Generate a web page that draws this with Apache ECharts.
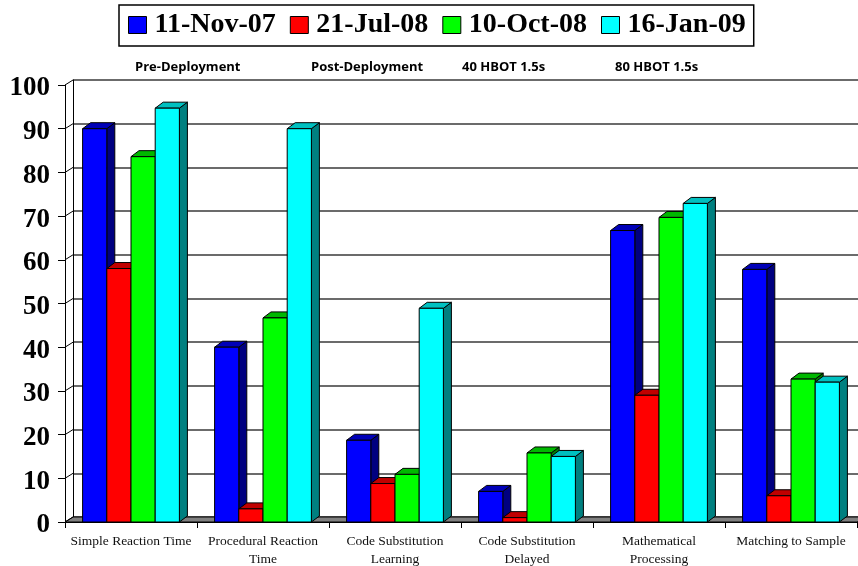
<!DOCTYPE html>
<html>
<head>
<meta charset="utf-8">
<script src="https://cdn.jsdelivr.net/npm/echarts@6/dist/echarts.min.js"></script>
<style>
  html, body { margin: 0; padding: 0; background: #fff; }
  #chart { width: 858px; height: 566px; }
</style>
</head>
<body>
<div id="chart"></div>
<script>
// chart data
const categories = [
  'Simple Reaction Time',
  'Procedural Reaction\nTime',
  'Code Substitution\nLearning',
  'Code Substitution\nDelayed',
  'Mathematical\nProcessing',
  'Matching to Sample'
]
const seriesNames = ['11-Nov-07', '21-Jul-08', '10-Oct-08', '16-Jan-09']
const nov07 = [90, 40, 18.7, 7, 66.7, 57.8]
const jul08 = [58, 3, 8.8, 1, 29, 6]
const oct08 = [83.6, 46.7, 10.9, 15.8, 69.7, 32.7]
const jan09 = [94.7, 90, 48.9, 15, 72.9, 32]
const yTicks = [0, 10, 20, 30, 40, 50, 60, 70, 80, 90, 100]
const phaseLabels = ['Pre-Deployment', 'Post-Deployment', '40 HBOT 1.5s', '80 HBOT 1.5s']

// colours: front, top, side
const palette = [
  ['#0000ff', '#0000b8', '#000080'],
  ['#ff0000', '#c00000', '#800000'],
  ['#00ff00', '#00b800', '#008000'],
  ['#00ffff', '#00c0c0', '#008080']
]
const DX = 8 // depth offset
const DY = 6

function barRenderer (si) {
  return function (params, api) {
    const ci = api.value(0)
    const v = api.value(1)
    const base = api.coord([ci, 0])
    const top = api.coord([ci, v])
    const band = api.size([1, 0])[0]
    const bw = band * 0.1833
    const x0 = base[0] - 2 * bw + si * bw
    const yt = top[1]
    const yb = base[1]
    const c = palette[si]
    const stroke = { stroke: '#000', lineWidth: 1 }
    return {
      type: 'group',
      children: [
        {
          type: 'polygon',
          shape: { points: [[x0 + bw, yt], [x0 + bw + DX, yt - DY], [x0 + bw + DX, yb - DY], [x0 + bw, yb]] },
          style: Object.assign({ fill: c[2] }, stroke)
        },
        {
          type: 'polygon',
          shape: { points: [[x0, yt], [x0 + bw, yt], [x0 + bw + DX, yt - DY], [x0 + DX, yt - DY]] },
          style: Object.assign({ fill: c[1] }, stroke)
        },
        {
          type: 'rect',
          shape: { x: x0, y: yt, width: bw, height: yb - yt },
          style: Object.assign({ fill: c[0] }, stroke)
        }
      ]
    }
  }
}

const chart = echarts.init(document.getElementById('chart'))

const barSeries = [nov07, jul08, oct08, jan09].map((arr, si) => ({
  name: seriesNames[si],
  type: 'custom',
  xAxisIndex: 0,
  yAxisIndex: 0,
  z: 3 + si,
  itemStyle: { color: palette[si][0], borderColor: '#000', borderWidth: 1 },
  renderItem: barRenderer(si),
  encode: { x: 0, y: 1 },
  data: arr.map((v, i) => [i, v])
}))

const option = {
  backgroundColor: '#fff',
  animation: false,
  legend: {
    data: seriesNames.map((n, i) => ({
      name: n,
      itemStyle: { color: palette[i][0], borderColor: '#000', borderWidth: 1 }
    })),
    left: 119,
    top: 5,
    icon: 'rect',
    itemWidth: 18,
    itemHeight: 17,
    itemGap: 14,
    padding: [6, 8, 7, 9],
    borderColor: '#000',
    borderWidth: 1.5,
    selectedMode: false,
    textStyle: {
      fontFamily: 'Liberation Serif',
      fontWeight: 'bold',
      fontSize: 28,
      color: '#000',
      padding: [0, 0, 0, 3]
    }
  },
  graphic: phaseLabels.map((t, i) => ({
    type: 'text',
    left: [135, 311, 462, 615][i],
    top: 61,
    style: {
      text: t,
      font: 'bold 13px "Open Sans"',
      fill: '#000'
    }
  })),
  grid: [
    { left: 65, right: 1, top: 85, bottom: 44, outerBoundsMode: 'none', containLabel: false }, // front plane
    { left: 73, right: 0, top: 80, bottom: 49, outerBoundsMode: 'none', containLabel: false } // back wall
  ],
  xAxis: [
    {
      type: 'category',
      gridIndex: 0,
      data: categories,
      axisLine: { show: true, lineStyle: { color: '#000', width: 1 } },
      axisTick: { show: true, length: 6, lineStyle: { color: '#000' } },
      axisLabel: {
        interval: 0,
        margin: 10,
        fontFamily: 'Liberation Serif',
        fontSize: 13.5,
        lineHeight: 18,
        color: '#111'
      },
      splitLine: { show: false }
    },
    { type: 'value', gridIndex: 1, min: 0, max: 1, show: false }
  ],
  yAxis: [
    {
      type: 'value',
      gridIndex: 0,
      min: 0,
      max: 100,
      interval: 10,
      axisLine: { show: true, lineStyle: { color: '#000', width: 1 } },
      axisTick: { show: true, length: 7, lineStyle: { color: '#000' } },
      axisLabel: {
        margin: 15,
        verticalAlign: 'top',
        lineHeight: 7,
        fontFamily: 'Liberation Serif',
        fontWeight: 'bold',
        fontSize: 27,
        color: '#000'
      },
      splitLine: { show: false }
    },
    {
      type: 'value',
      gridIndex: 1,
      min: 0,
      max: 100,
      interval: 10,
      axisLine: { show: true, lineStyle: { color: '#000', width: 1 } },
      axisTick: { show: false },
      axisLabel: { show: false },
      splitLine: { show: true, lineStyle: { color: '#3a3a3a', width: 1.5 } }
    }
  ],
  series: [
    {
      // floor
      type: 'custom',
      xAxisIndex: 0,
      yAxisIndex: 0,
      z: 2,
      silent: true,
      renderItem: function (params, api) {
        const band = api.size([1, 0])[0]
        const l = api.coord([0, 0])[0] - band / 2
        const r = api.coord([categories.length - 1, 0])[0] + band / 2
        const y = api.coord([0, 0])[1]
        return {
          type: 'polygon',
          shape: { points: [[l, y], [r, y], [r + 8, y - 5], [l + 8, y - 5]] },
          style: { fill: '#808080', stroke: '#000', lineWidth: 1 }
        }
      },
      data: [[0, 0]]
    },
    {
      // left wall diagonals
      type: 'custom',
      xAxisIndex: 0,
      yAxisIndex: 0,
      z: 2,
      silent: true,
      renderItem: function (params, api) {
        const band = api.size([1, 0])[0]
        const p = api.coord([0, api.value(1)])
        const l = p[0] - band / 2
        return {
          type: 'line',
          shape: { x1: l, y1: p[1], x2: l + 8, y2: p[1] - 5 },
          style: { stroke: '#000', lineWidth: 1 }
        }
      },
      encode: { x: 0, y: 1 },
      data: yTicks.map(v => [0, v])
    }
  ].concat(barSeries)
}

chart.setOption(option)
</script>
</body>
</html>
